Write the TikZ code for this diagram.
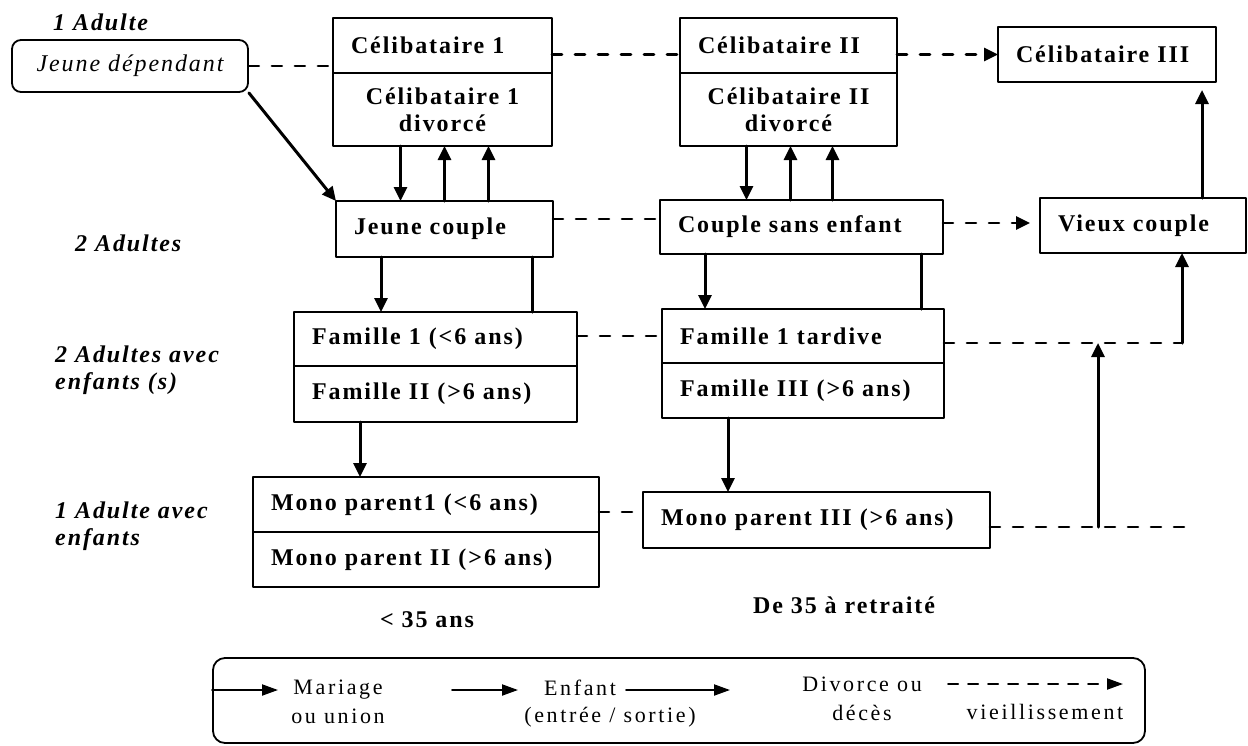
\documentclass[tikz,border=0pt]{standalone}
\usepackage{fontspec}
\setmainfont{Liberation Serif}
\newfontfamily\spacedfont[LetterSpace=8]{Liberation Serif}
\newfontfamily\legfont[LetterSpace=12]{Liberation Serif}
\usetikzlibrary{arrows.meta,calc,positioning}

\begin{document}
\begin{tikzpicture}[x=1pt,y=-1pt,line join=round,line cap=round,
		>={Triangle[length=14pt,width=13pt]},
		etat/.style={draw,line width=2pt,outer sep=0pt,inner xsep=18pt,inner ysep=0pt,
			minimum height=55pt,align=left,font=\spacedfont\fontsize{24}{27}\selectfont\bfseries},
		depend/.style={draw,line width=1.8pt,rounded corners=9pt,minimum width=236pt,minimum height=52pt,
			font=\spacedfont\fontsize{24}{27}\selectfont\itshape},
		niveau/.style={inner sep=0pt,align=left,anchor=west,font=\spacedfont\fontsize{24}{27}\selectfont\bfseries\itshape},
		age/.style={inner sep=0pt,font=\spacedfont\fontsize{24}{27}\selectfont\bfseries},
		legtxt/.style={inner sep=0pt,align=center,font=\legfont\fontsize{22}{29}\selectfont},
		fleche/.style={->,line width=3pt},
		trait/.style={line width=3pt},
		tiret/.style={line width=2.6pt,dash pattern=on 10pt off 13pt},
		legfleche/.style={-{Triangle[length=16pt,width=11pt]},line width=2pt}]
	\useasboundingbox (0,0) rectangle (1248,745);
	% niveaux
	\node[niveau] (nv1) at (53,22) {1 Adulte};
	\node[niveau] (nv2) at (75,243) {2 Adultes};
	\node[niveau] (nv3) at (55,370) {2 Adultes avec\\enfants (s)};
	\node[niveau] (nv4) at (55,526) {1 Adulte avec\\enfants};
	% etats
	\node[depend] (jdep) at (130,66) {Jeune dépendant};
	\node[etat,text width=183pt] (cel1) at (442.5,45.5) {Célibataire 1};
	\node[etat,text width=183pt,align=center,minimum height=73pt,below=0pt of cel1] (cel1d) {Célibataire 1\\divorcé};
	\node[etat,text width=181pt] (cel2) at (788.5,45.5) {Célibataire II};
	\node[etat,text width=181pt,align=center,minimum height=73pt,below=0pt of cel2] (cel2d) {Célibataire II\\divorcé};
	\node[etat,text width=182pt] (cel3) at (1107,54.5) {Célibataire III};
	\node[etat,text width=181pt,minimum height=56pt] (jcouple) at (444.5,229) {Jeune couple};
	\node[etat,text width=247pt,minimum height=54pt] (csans) at (801.5,227) {Couple sans enfant};
	\node[etat,text width=170pt] (vieux) at (1143,225.5) {Vieux couple};
	\node[etat,text width=247pt,minimum height=54pt] (fam1) at (435.5,339) {Famille 1 (<6 ans)};
	\node[etat,text width=247pt,minimum height=56pt,below=0pt of fam1] (fam2) {Famille II (>6 ans)};
	\node[etat,text width=246pt,minimum height=54pt] (famt) at (803,336) {Famille 1 tardive};
	\node[etat,text width=246pt,below=0pt of famt] (fam3) {Famille III (>6 ans)};
	\node[etat,text width=310pt] (mono1) at (426,504.5) {Mono parent1 (<6 ans)};
	\node[etat,text width=310pt,below=0pt of mono1] (mono2) {Mono parent II (>6 ans)};
	\node[etat,text width=311pt,minimum height=56pt] (mono3) at (816.5,520) {Mono parent III (>6 ans)};
	% ages
	\node[age] (jeune) at (427,620) {< 35 ans};
	\node[age] (adulte) at (844,605) {De 35 à retraité};
	% liens du haut
	\draw[tiret] (jdep.east) -- (jdep.east -| cel1.west);
	\draw[tiret] ([yshift=-9pt]cel1.east) -- ([yshift=-9pt]cel1.east -| cel2.west);
	\draw[tiret,->] (cel3.west -| cel2.east) -- (cel3.west);
	\draw[fleche] (jdep.south east) -- (jcouple.north west);
	\draw[fleche] ([xshift=-42pt]cel1d.south) -- ([xshift=-42pt]cel1d.south |- jcouple.north);
	\draw[fleche] ([xshift=2pt]cel1d.south |- jcouple.north) -- ([xshift=2pt]cel1d.south);
	\draw[fleche] ([xshift=46pt]cel1d.south |- jcouple.north) -- ([xshift=46pt]cel1d.south);
	\draw[fleche] ([xshift=-42pt]cel2d.south) -- ([xshift=-42pt]cel2d.south |- csans.north);
	\draw[fleche] ([xshift=2pt]cel2d.south |- csans.north) -- ([xshift=2pt]cel2d.south);
	\draw[fleche] ([xshift=44pt]cel2d.south |- csans.north) -- ([xshift=44pt]cel2d.south);
	% couples
	\draw[tiret] ([yshift=10pt]jcouple.east) -- ([yshift=10pt]jcouple.east -| csans.west);
	\draw[tiret,->,shorten >=10pt] ([yshift=4pt]csans.east) -- ([yshift=4pt]csans.east -| vieux.west);
	\draw[fleche,shorten >=8pt] ([xshift=59pt]vieux.north) -- ([xshift=59pt]vieux.north |- cel3.south);
	\draw[fleche] ([xshift=-63.5pt]jcouple.south) -- ([xshift=-63.5pt]jcouple.south |- fam1.north);
	\draw[trait] ([xshift=87.5pt]jcouple.south) -- ([xshift=87.5pt]jcouple.south |- fam1.north);
	\draw[fleche] ([xshift=-96.5pt]csans.south) -- ([xshift=-96.5pt]csans.south |- famt.north);
	\draw[trait] ([xshift=119.5pt]csans.south) -- ([xshift=119.5pt]csans.south |- famt.north);
	% familles
	\coordinate (vjoin) at (1182,343);
	\coordinate (mfin) at (1185,527);
	\coordinate (mjoin) at (1098,527);
	\draw[tiret] (famt.west -| fam1.east) -- (famt.west);
	\draw[tiret] ([yshift=-7pt]famt.east) -- (vjoin);
	\draw[fleche] (vjoin) -- (vjoin |- vieux.south);
	\draw[fleche] ([xshift=-75.5pt]fam2.south) -- ([xshift=-75.5pt]fam2.south |- mono1.north);
	\draw[fleche] ([xshift=-75pt]fam3.south) -- ([xshift=-75pt]fam3.south |- mono3.north);
	\draw[tiret] ([yshift=-7.5pt]mono1.east) -- ([yshift=-7.5pt]mono1.east -| mono3.west);
	\draw[tiret] ([yshift=-7pt]mono3.east) -- (mfin);
	\draw[fleche] (mjoin) -- (mjoin |- vjoin);
	% legende
	\node[draw,line width=1.8pt,rounded corners=12pt,minimum width=932pt,minimum height=85pt] (leg) at (679,700.5) {};
	\node[legtxt] (lmar) at (338,702) {Mariage\\ou union};
	\node[legtxt] (lenf) at (580,688) {Enfant};
	\node[legtxt] (lent) at (610,717) {(entrée / sortie)};
	\node[legtxt] (ldiv) at (862,699) {Divorce ou\\décès};
	\node[legtxt] (lvie) at (1045,712) {vieillissement};
	\coordinate (la1) at (278,690);
	\coordinate (lb0) at (452,690);
	\coordinate (lb1) at (518,690);
	\coordinate (lc1) at (730,690);
	\coordinate (ld0) at (948,684);
	\coordinate (ld1) at (1123,684);
	\draw[legfleche] (leg.west |- la1) -- (la1);
	\draw[legfleche] (lb0) -- (lb1);
	\draw[legfleche] ([xshift=10pt]lenf.east |- lc1) -- (lc1);
	\draw[legfleche,dash pattern=on 10pt off 10pt] (ld0) -- (ld1);
\end{tikzpicture}
\end{document}
